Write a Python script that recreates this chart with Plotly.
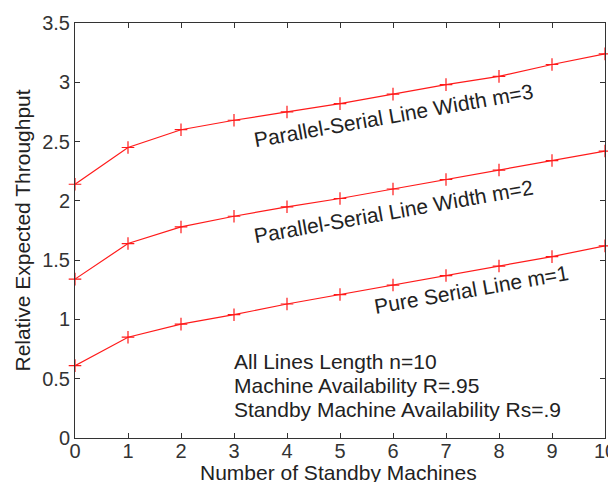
import plotly.graph_objects as go

x_standby = [0, 1, 2, 3, 4, 5, 6, 7, 8, 9, 10]
m3_values = [2.14, 2.45, 2.60, 2.68, 2.75, 2.82, 2.90, 2.98, 3.05, 3.15, 3.24]
m2_values = [1.34, 1.64, 1.78, 1.87, 1.95, 2.02, 2.10, 2.18, 2.26, 2.34, 2.42]
m1_values = [0.61, 0.85, 0.96, 1.04, 1.13, 1.21, 1.29, 1.37, 1.45, 1.53, 1.62]

y_ticks = [0, 0.5, 1, 1.5, 2, 2.5, 3, 3.5]
y_tick_text = ["0", "0.5", "1", "1.5", "2", "2.5", "3", "3.5"]

curve_labels = ["Parallel-Serial Line Width m=3", "Parallel-Serial Line Width m=2", "Pure Serial Line m=1"]
info_lines = ["All Lines Length n=10", "Machine Availability R=.95", "Standby Machine Availability Rs=.9"]
x_title = "Number of Standby Machines"
y_title = "Relative Expected Throughput"

font_family = "Liberation Sans, Arial, sans-serif"
text_col = "#222222"
fs = 21
tick_fs = 20

fig = go.Figure()
for vals in [m3_values, m2_values, m1_values]:
    fig.add_trace(go.Scatter(
        x=x_standby, y=vals, mode="lines+markers",
        line=dict(color="#ff1a1a", width=1.2),
        marker=dict(symbol="cross-thin", size=9, line=dict(color="#ff1a1a", width=1.2)),
        showlegend=False, cliponaxis=False,
    ))

# rotated curve labels
label_pos = [(6.0, 2.72), (6.0, 1.91), (7.48, 1.25)]
for (lx, ly), t in zip(label_pos, curve_labels):
    fig.add_annotation(x=lx, y=ly, text=t, textangle=-10, showarrow=False,
                       font=dict(family=font_family, size=fs, color=text_col))

info_y = [0.643, 0.447, 0.240]
for yy, t in zip(info_y, info_lines):
    fig.add_annotation(x=2.96, y=yy, text=t, showarrow=False, xanchor="left", yanchor="middle",
                       font=dict(family=font_family, size=fs, color=text_col))

# axis titles as annotations (positions in paper coords of the plot area)
fig.add_annotation(xref="paper", yref="paper", x=0.497, y=-0.083, text=x_title, showarrow=False,
                   xanchor="center", yanchor="middle",
                   font=dict(family=font_family, size=fs, color=text_col))
fig.add_annotation(xref="paper", yref="paper", x=-0.1, y=0.5, text=y_title, showarrow=False,
                   textangle=-90, xanchor="center", yanchor="middle",
                   font=dict(family=font_family, size=fs, color=text_col))

axis_common = dict(
    showline=True, linecolor="#333333", linewidth=1, mirror="ticks",
    ticks="inside", ticklen=5, tickcolor="#333333",
    showgrid=False, zeroline=False, automargin=False,
    ticklabeloverflow="allow",
    tickfont=dict(family=font_family, size=tick_fs, color="#333333"),
)

# The page body adds an 8px offset; figure size/margins compensate so the
# plot area lands at x 75-605, y 23-438 of the 616x482 window.
fig.update_layout(
    width=608, height=474,
    margin=dict(l=67, r=11, t=15, b=44),
    paper_bgcolor="white", plot_bgcolor="white",
    xaxis=dict(range=[0, 10], tickvals=x_standby, ticklabelstandoff=-5, **axis_common),
    yaxis=dict(range=[0, 3.5], tickvals=y_ticks, ticktext=y_tick_text, **axis_common),
)

fig.write_html("out.html")
